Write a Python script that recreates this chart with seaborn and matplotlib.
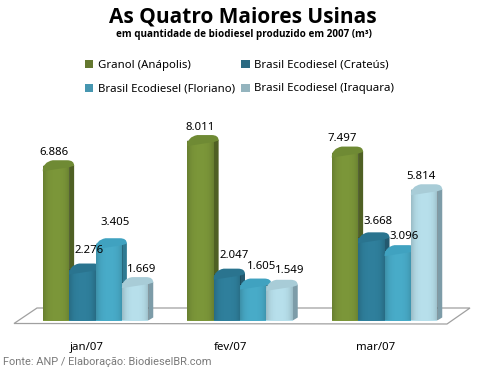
import numpy as np
import pandas as pd
import seaborn as sns
import matplotlib.pyplot as plt
from matplotlib.patches import PathPatch, Polygon, Rectangle
from matplotlib.path import Path
from matplotlib.legend_handler import HandlerPatch
from matplotlib.transforms import ScaledTranslation

meses = ['jan/07', 'fev/07', 'mar/07']
usinas = ['Granol (Anápolis)', 'Brasil Ecodiesel (Crateús)',
          'Brasil Ecodiesel (Floriano)', 'Brasil Ecodiesel (Iraquara)']
granol = [6886, 8011, 7497]
crateus = [2276, 2047, 3668]
floriano = [3405, 1605, 3096]
iraquara = [1669, 1549, 5814]

# cores: frente, topo, lateral, legenda
frente = ['#7b9639', '#2f7f9c', '#48abc8', '#b7dfeb']
topo = ['#6f8a34', '#2a748f', '#40a2c0', '#a8ccd7']
lateral = ['#4f6024', '#23596f', '#2f7a92', '#7d9ca8']
legenda = ['#64782f', '#2b6a82', '#4696b0', '#94b4be']

# deslocamento dos rótulos em pixels (por usina, por mês)
rotulo_dx = [[-2, 0, -3], [7, 7, 7], [6, 8, 6], [7, 10, -3]]
rotulo_dy = [[8, 8, 8], [13, 13, 11], [16, 12, 9], [8, 9, 8]]

df = pd.DataFrame({'mes': meses * 4,
                   'usina': np.repeat(usinas, 3),
                   'valor': granol + crateus + floriano + iraquara})

sns.set_theme(style='white')
plt.rcParams['font.family'] = ['Noto Sans', 'DejaVu Sans']

W, H = 480, 368
fig = plt.figure(figsize=(W / 100, H / 100), dpi=100)
base_y = 320.5
topo_y = 100
ax = fig.add_axes([23.25 / W, 1 - base_y / H, 433.5 / W, (base_y - topo_y) / H])

sns.barplot(data=df, x='mes', y='valor', hue='usina', order=meses, hue_order=usinas,
            palette=frente, width=0.73, gap=0, saturation=1, legend=False, ax=ax)

px_y = 1000 / 22.4
px_x = 1 / 144.5

# sombra horizontal: escura nas bordas, clara no meio
t = np.linspace(0, 1, 64)
sombra = np.zeros((1, 64, 4))
sombra[0, :, 3] = 0.16 * np.abs(2 * t - 1) ** 3

# efeito 3D em cima das barras do seaborn
for i, cont in enumerate(ax.containers):
    for j, bar in enumerate(cont):
        x0, x1 = bar.get_x(), bar.get_x() + bar.get_width()
        h = bar.get_height()
        z = 2 + j * 10 + i
        dx, dy = 5 * px_x, 6 * px_y
        side = Polygon([(x1, 0), (x1 + dx, 3 * px_y), (x1 + dx, h + dy * 0.2), (x1, h)],
                       facecolor=lateral[i], edgecolor='none', zorder=z)
        ax.add_patch(side)
        verts = [(x0, h - 5 * px_y), (x0, h + dy * 0.7), (x0 + dx * 2, h + dy),
                 (x1 - dx * 0.4, h + dy),
                 (x1 + dx, h + dy), (x1 + dx, h + dy * 0.1),
                 (x1, h - 1 * px_y), (x0, h - 5 * px_y)]
        codes = [Path.MOVETO, Path.CURVE3, Path.CURVE3, Path.LINETO,
                 Path.CURVE3, Path.CURVE3, Path.LINETO, Path.LINETO]
        ax.add_patch(PathPatch(Path(verts, codes), facecolor=topo[i], edgecolor='none', zorder=z + 0.2))
        bar.set_zorder(z + 0.1)
        bar.set_edgecolor('none')
        ax.imshow(sombra, extent=(x0, x1, 0, h), aspect='auto', interpolation='bilinear', zorder=z + 0.15)
        ax.annotate(f'{int(h):,}'.replace(',', '.'),
                    ((x0 + x1) / 2, h), xytext=(rotulo_dx[i][j] * 0.72, (6 + rotulo_dy[i][j]) * 0.72),
                    textcoords='offset points', ha='center', va='center',
                    fontsize=8.2, color='black', zorder=100)

ax.set_xlim(-0.5, 2.5)
ax.set_ylim(0, (base_y - topo_y) * px_y)

# piso do gráfico
piso = [(14, 323.5), (37, 308), (470, 308), (447, 324)]
piso = [(px / W, 1 - py / H) for px, py in piso]
ax.add_patch(Polygon(piso, closed=True, transform=fig.transFigure, clip_on=False,
                     facecolor='white', edgecolor='#a0a0a0', lw=0.9, zorder=0.5))

sns.despine(ax=ax, left=True, bottom=True)
ax.set_xlabel('')
ax.set_ylabel('')
ax.set_yticks([])
ax.tick_params(axis='x', length=0, pad=15.5, labelsize=8.2, labelcolor='black')
desloca = ScaledTranslation(-9 / 100, 0, fig.dpi_scale_trans)
for lab in ax.get_xticklabels():
    lab.set_transform(lab.get_transform() + desloca)
ax.patch.set_alpha(0)


def quadrado(legend, orig_handle, xdescent, ydescent, width, height, fontsize):
    # quadradinho de 8 px, com a altura da linha fixa pelo handleheight
    lado = 5.8
    return Rectangle((-xdescent, -ydescent + (height - lado) / 2), lado, lado)


# a legenda preenche por coluna, a referência por linha
ordem = [0, 2, 1, 3]
proxies = [Rectangle((0, 0), 1, 1, facecolor=legenda[k], edgecolor='none') for k in ordem]
ax.legend(proxies, [usinas[k] for k in ordem], ncols=2, frameon=False, fontsize=8.2,
          loc='upper left', bbox_to_anchor=(85 / W, 1 - 56 / H), bbox_transform=fig.transFigure,
          handler_map={Rectangle: HandlerPatch(patch_func=quadrado)},
          handlelength=0.8, handleheight=1.8, handletextpad=0.3, columnspacing=0.6,
          labelspacing=0.65, borderpad=0, borderaxespad=0, labelcolor='black')

fig.text(242.5 / W, 1 - 17 / H, 'As Quatro Maiores Usinas', ha='center', va='center',
         fontsize=15, fontweight='bold', color='black', family=['Open Sans', 'DejaVu Sans'])
fig.text(244 / W, 1 - 34.5 / H, 'em quantidade de biodiesel produzido em 2007 (m³)', ha='center', va='center',
         fontsize=7.1, fontweight='bold', color='black', family=['Open Sans', 'DejaVu Sans'])
fig.text(3 / W, 1 - 362 / H, 'Fonte: ANP / Elaboração: BiodieselBR.com', ha='left', va='center',
         fontsize=7.9, color='#7a7a7a', family=['Roboto', 'DejaVu Sans'])

fig.savefig('out.png', dpi=100, facecolor='white')
